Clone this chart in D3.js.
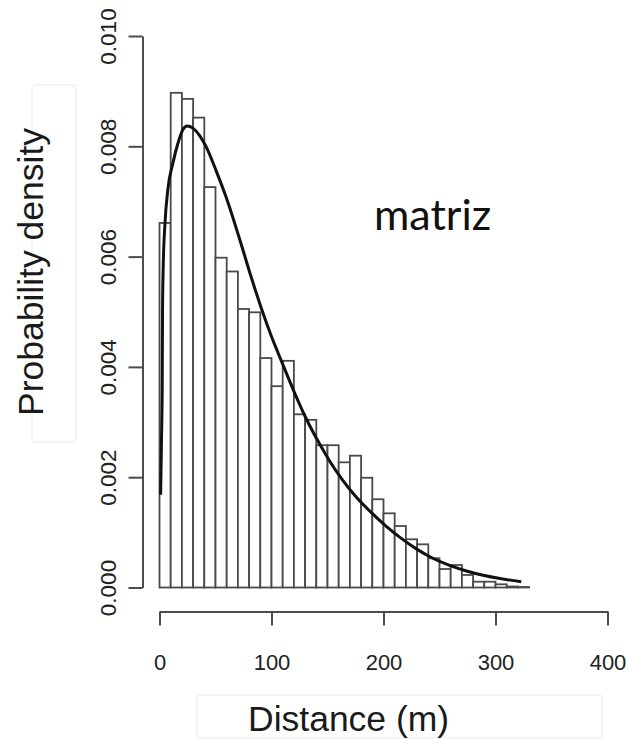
<!DOCTYPE html>
<html>
<head>
<meta charset="utf-8">
<script src="https://cdn.jsdelivr.net/npm/d3@7/dist/d3.min.js"></script>
<style>
  html, body { margin: 0; padding: 0; background: #fff; }
  svg { display: block; }
</style>
</head>
<body>
<svg id="chart" width="633" height="739"></svg>
<script>
// Histogram of distances (10 m bins) with a fitted density curve
const binWidth = 10;
const binStart = d3.range(0, 330, 10);
const binDensity = [
  0.00661, 0.00897, 0.00886, 0.00852, 0.00726, 0.00598, 0.00573, 0.00505,
  0.00499, 0.00416, 0.00365, 0.00411, 0.00314, 0.00304, 0.00258, 0.00258,
  0.00227, 0.00239, 0.00199, 0.00160, 0.001345, 0.001115, 0.000874, 0.000783,
  0.00053, 0.000335, 0.000408, 0.000227, 0.000105, 0.000105, 0.000058, 0.000018,
  0.000009
];

// Fitted density curve
const curveX = [1.0, 1.8, 2.4, 2.7, 3.3, 4.9, 7.4, 11.9, 16.4, 20.8, 24.7, 29.8,
  35.7, 41.7, 50.7, 59.6, 71.5, 82, 91, 100, 110, 120.6, 131, 143, 152, 163,
  176, 188, 203, 215, 229, 244, 259, 274, 289, 304, 323];
const curveY = [0.00168, 0.0027, 0.0036, 0.0050, 0.0058, 0.0066, 0.00721,
  0.00769, 0.00805, 0.00830, 0.00837, 0.00833, 0.0082, 0.00799, 0.00755,
  0.00707, 0.00632, 0.00562, 0.00506, 0.00455, 0.00405, 0.00353, 0.00306,
  0.00260, 0.00229, 0.00196, 0.00163, 0.00138, 0.00110, 0.000905, 0.000705,
  0.00053, 0.00040, 0.00030, 0.000222, 0.000162, 0.000105];

const xTicks = [0, 100, 200, 300, 400];
const yTicks = [0, 0.002, 0.004, 0.006, 0.008, 0.010];

const svg = d3.select("#chart");
const x = d3.scaleLinear().domain([0, 400]).range([159.5, 607.5]);
const y = d3.scaleLinear().domain([0, 0.010]).range([587.5, 36]);

const axisColor = "#4d4d4d";
const font = "'Liberation Sans', Arial, sans-serif";

// faint label frames
svg.append("rect").attr("x", 32).attr("y", 85).attr("width", 44).attr("height", 357)
  .attr("rx", 3).attr("fill", "none").attr("stroke", "#ebebeb").attr("stroke-width", 1);
svg.append("rect").attr("x", 197).attr("y", 695).attr("width", 405).attr("height", 43)
  .attr("rx", 3).attr("fill", "none").attr("stroke", "#ebebeb").attr("stroke-width", 1);

// bars
svg.append("g")
  .selectAll("rect")
  .data(binStart.map((s, i) => ({ s, d: binDensity[i] })))
  .join("rect")
  .attr("x", d => x(d.s))
  .attr("width", d => x(d.s + binWidth) - x(d.s))
  .attr("y", d => y(d.d))
  .attr("height", d => y(0) - y(d.d))
  .attr("fill", "#fff")
  .attr("stroke", "#4a4a4a")
  .attr("stroke-width", 1.8);

// density curve
const line = d3.line()
  .x(d => x(d[0]))
  .y(d => y(d[1]))
  .curve(d3.curveMonotoneX);
svg.append("path")
  .datum(curveX.map((v, i) => [v, curveY[i]]))
  .attr("d", line)
  .attr("fill", "none")
  .attr("stroke", "#111")
  .attr("stroke-width", 3);

// y axis
const gy = svg.append("g")
  .attr("transform", "translate(142.5,0)")
  .call(d3.axisLeft(y).tickValues(yTicks).tickSize(14).tickSizeOuter(0)
    .tickFormat(d3.format(".3f")));
gy.select(".domain").attr("stroke", axisColor).attr("stroke-width", 2);
gy.selectAll(".tick line").attr("stroke", axisColor).attr("stroke-width", 2);
gy.selectAll(".tick text")
  .attr("x", null).attr("dy", null)
  .attr("transform", "translate(-26.5,0) rotate(-90)")
  .attr("text-anchor", "middle")
  .attr("font-family", font)
  .attr("font-size", 22.5)
  .attr("fill", "#222");

// x axis
const gx = svg.append("g")
  .attr("transform", "translate(0,611.5)")
  .call(d3.axisBottom(x).tickValues(xTicks).tickSize(14).tickSizeOuter(0)
    .tickFormat(d3.format("d")));
gx.select(".domain").attr("stroke", axisColor).attr("stroke-width", 2);
gx.selectAll(".tick line").attr("stroke", axisColor).attr("stroke-width", 2);
gx.selectAll(".tick text")
  .attr("y", 58).attr("dy", null)
  .attr("font-family", font)
  .attr("font-size", 22)
  .attr("fill", "#222");

// axis titles
svg.append("text")
  .attr("transform", "translate(43,272) rotate(-90)")
  .attr("text-anchor", "middle")
  .attr("font-family", font)
  .attr("font-size", 35.5)
  .attr("fill", "#1a1a1a")
  .text("Probability density");

svg.append("text")
  .attr("x", 248).attr("y", 731)
  .attr("text-anchor", "start")
  .attr("font-family", font)
  .attr("font-size", 35.5)
  .attr("fill", "#1a1a1a")
  .text("Distance (m)");

// annotation
svg.append("text")
  .attr("x", 374).attr("y", 230)
  .attr("font-family", "Lato, 'Open Sans', sans-serif")
  .attr("font-size", 43)
  .attr("fill", "#111")
  .text("matriz");
</script>
</body>
</html>
